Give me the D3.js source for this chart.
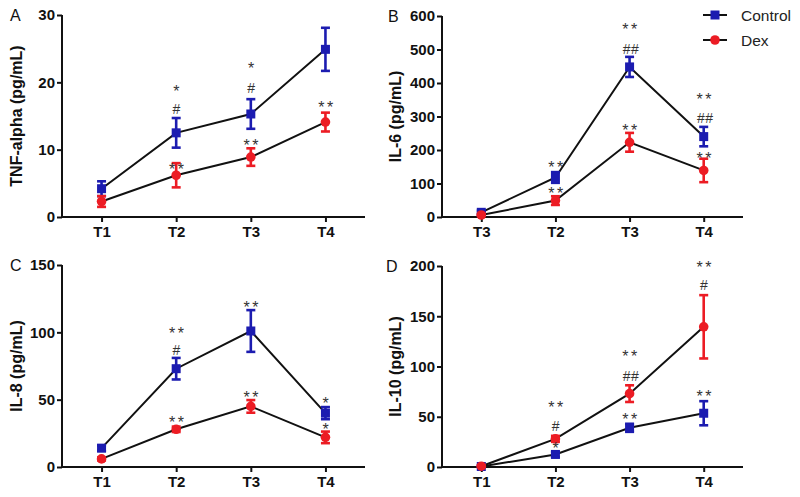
<!DOCTYPE html>
<html><head><meta charset="utf-8">
<script src="https://cdn.jsdelivr.net/npm/d3@7"></script>
<style>
body{margin:0;background:#fff;}
svg{display:block;font-family:"Liberation Sans",Arial,sans-serif;}
</style></head>
<body>
<svg id="chart" width="800" height="497"></svg>
<script>
// ---- data ----
const timesStd = ["T1", "T2", "T3", "T4"];
const timesB = ["T3", "T2", "T3", "T4"];
const seriesNames = ["Control", "Dex"];

const tnfControl = [4.2, 12.5, 15.3, 24.9];
const tnfControlErr = [1.1, 2.2, 2.2, 3.2];
const tnfDex = [2.3, 6.2, 8.9, 14.1];
const tnfDexErr = [0.8, 1.8, 1.3, 1.4];

const il6Control = [14, 118, 448, 240];
const il6ControlErr = [5, 16, 30, 29];
const il6Dex = [6, 49, 223, 139];
const il6DexErr = [3, 13, 28, 35];

const il8Control = [14, 73, 101, 40];
const il8ControlErr = [2, 8, 15.5, 4.5];
const il8Dex = [6, 28, 45, 22];
const il8DexErr = [1.2, 2, 4.7, 4.3];

const il10Control = [0.5, 12.5, 39, 53.5];
const il10ControlErr = [1, 2.5, 4, 12];
const il10Dex = [0.8, 28, 73, 139.5];
const il10DexErr = [1, 3, 8.3, 31.5];

const ticksA = [0, 10, 20, 30];
const ticksB = [0, 100, 200, 300, 400, 500, 600];
const ticksC = [0, 50, 100, 150];
const ticksD = [0, 50, 100, 150, 200];

// annotations: [time index, text, value level]
const annotA = [[1, "*", 19.3], [1, "#", 16.0], [1, "**", 7.6], [2, "*", 22.6], [2, "#", 19.2], [2, "**", 11.2], [3, "**", 16.8]];
const annotB = [[1, "**", 159], [1, "**", 83], [2, "**", 572], [2, "##", 503], [2, "**", 270], [3, "**", 364], [3, "##", 295], [3, "**", 188]];
const annotC = [[1, "**", 102.4], [1, "#", 86.8], [1, "**", 36], [2, "**", 121.5], [2, "**", 54.5], [3, "*", 50], [3, "*", 31]];
const annotD = [[1, "**", 63.5], [1, "#", 41.3], [1, "*", 22], [2, "**", 113.7], [2, "##", 90.6], [2, "**", 51], [3, "**", 203], [3, "#", 181], [3, "**", 74]];

// ---- styles ----
const BLUE = "#1c1cb0";
const RED = "#ec1c24";
const FONT = "\"Liberation Sans\",Arial,sans-serif";

const panels = [
  {letter: "A", title: "TNF-alpha (pg/mL)", times: timesStd, ctrl: tnfControl, ctrlErr: tnfControlErr, dex: tnfDex, dexErr: tnfDexErr, ticks: ticksA, max: 30, annot: annotA,
   x0: 62, x1: 365, yTop: 15, yBot: 217, letterX: 10, titleX: 22},
  {letter: "B", title: "IL-6 (pg/mL)", times: timesB, ctrl: il6Control, ctrlErr: il6ControlErr, dex: il6Dex, dexErr: il6DexErr, ticks: ticksB, max: 600, annot: annotB,
   x0: 442, x1: 743, yTop: 16, yBot: 217, letterX: 388, titleX: 401},
  {letter: "C", title: "IL-8 (pg/mL)", times: timesStd, ctrl: il8Control, ctrlErr: il8ControlErr, dex: il8Dex, dexErr: il8DexErr, ticks: ticksC, max: 150, annot: annotC,
   x0: 62, x1: 365, yTop: 265, yBot: 467, letterX: 10, titleX: 22},
  {letter: "D", title: "IL-10 (pg/mL)", times: timesStd, ctrl: il10Control, ctrlErr: il10ControlErr, dex: il10Dex, dexErr: il10DexErr, ticks: ticksD, max: 200, annot: annotD,
   x0: 442, x1: 743, yTop: 266, yBot: 467, letterX: 386, titleX: 401}
];

const svg = d3.select("#chart");

panels.forEach(p => {
  const g = svg.append("g");
  const x = d3.scalePoint().domain(d3.range(p.times.length)).range([p.x0, p.x1]).padding(0.53);
  const y = d3.scaleLinear().domain([0, p.max]).range([p.yBot, p.yTop]);

  // axes
  const yAxis = d3.axisLeft(y).tickValues(p.ticks).tickSize(5).tickPadding(2).tickSizeOuter(0);
  const xAxis = d3.axisBottom(x).tickFormat(i => p.times[i]).tickSize(5).tickPadding(4).tickSizeOuter(0);
  const ya = g.append("g").attr("transform", `translate(${p.x0},0)`).call(yAxis);
  const xa = g.append("g").attr("transform", `translate(0,${p.yBot})`).call(xAxis);
  [ya, xa].forEach(a => {
    a.select(".domain").attr("stroke", "#111").attr("stroke-width", 2);
    a.selectAll(".tick line").attr("stroke", "#111").attr("stroke-width", 2);
    a.selectAll(".tick text").attr("fill", "#111").attr("font-family", FONT).attr("font-size", 15).attr("font-weight", "bold");
  });
  xa.select(".domain").attr("d", `M${p.x0},0H${p.x1}`);
  ya.select(".domain").attr("d", `M0,${p.yBot + 1}V${p.yTop}`);

  // panel letter
  g.append("text").attr("x", p.letterX).attr("y", p.yTop + 6).attr("font-family", FONT).attr("font-size", 16)
    .attr("fill", "#111").text(p.letter);
  // y title
  g.append("text").attr("transform", `translate(${p.titleX},${(p.yTop + p.yBot) / 2}) rotate(-90)`)
    .attr("text-anchor", "middle").attr("font-family", FONT).attr("font-size", 16).attr("font-weight", "bold")
    .attr("fill", "#111").text(p.title);

  const line = d3.line().x((d, i) => x(i)).y(d => y(d));
  const series = [
    {vals: p.ctrl, err: p.ctrlErr, color: BLUE, shape: "square"},
    {vals: p.dex, err: p.dexErr, color: RED, shape: "circle"}
  ];
  series.forEach(s => {
    g.append("path").attr("d", line(s.vals)).attr("fill", "none").attr("stroke", "#111").attr("stroke-width", 2);
  });
  series.forEach(s => {
    const eg = g.append("g");
    s.vals.forEach((v, i) => {
      const cx = x(i), top = y(v + s.err[i]), bot = y(Math.max(0, v - s.err[i]));
      eg.append("line").attr("x1", cx).attr("x2", cx).attr("y1", top).attr("y2", bot).attr("stroke", s.color).attr("stroke-width", 2.6);
      [top, bot].forEach(yy => eg.append("line").attr("x1", cx - 4.5).attr("x2", cx + 4.5).attr("y1", yy).attr("y2", yy)
        .attr("stroke", s.color).attr("stroke-width", 2.6));
      if (s.shape === "square") {
        eg.append("rect").attr("x", cx - 4.5).attr("y", y(v) - 4.5).attr("width", 9).attr("height", 9).attr("fill", s.color);
      } else {
        eg.append("circle").attr("cx", cx).attr("cy", y(v)).attr("r", 4.8).attr("fill", s.color);
      }
    });
  });

  // annotations
  p.annot.forEach(([i, t, v]) => {
    const isStar = t[0] === "*";
    const fs = isStar ? 16 : 14;
    g.append("text").attr("x", x(i) + (t.length > 1 ? 1.5 : 0.5)).attr("y", y(v) + (isStar ? 0.6 * fs : 0.36 * fs))
      .attr("text-anchor", "middle").attr("font-family", FONT).attr("font-size", fs)
      .attr("letter-spacing", isStar && t.length > 1 ? 2.5 : 0.5)
      .attr("fill", "#333").text(t);
  });
});

// legend
const legend = svg.append("g");
seriesNames.forEach((name, k) => {
  const ly = 15 + k * 25;
  const color = k === 0 ? BLUE : RED;
  legend.append("line").attr("x1", 703).attr("x2", 727).attr("y1", ly).attr("y2", ly).attr("stroke", "#111").attr("stroke-width", 2);
  if (k === 0) legend.append("rect").attr("x", 710.5).attr("y", ly - 4.5).attr("width", 9).attr("height", 9).attr("fill", color);
  else legend.append("circle").attr("cx", 715).attr("cy", ly).attr("r", 4.8).attr("fill", color);
  legend.append("text").attr("x", 741).attr("y", ly + 5.5).attr("font-family", FONT).attr("font-size", 15.5).attr("fill", "#222").text(name);
});
</script>
</body></html>
